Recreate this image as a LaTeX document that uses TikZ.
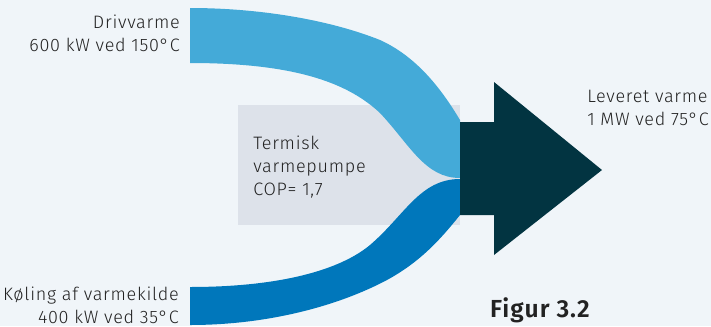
\documentclass[tikz,border=0pt]{standalone}
\usepackage{fontspec}
\setmainfont{Fira Sans Light}[BoldFont={Fira Sans SemiBold}, LetterSpace=4]
\usepackage{tikz}
\usetikzlibrary{positioning,calc}
\usepackage{xcolor}

\definecolor{bgcol}{HTML}{F0F5F9}
\definecolor{drivcol}{HTML}{44AAD8}
\definecolor{koelcol}{HTML}{0077BB}
\definecolor{pumpcol}{HTML}{DDE2EA}
\definecolor{levcol}{HTML}{023441}
\definecolor{txtcol}{HTML}{222222}

\begin{document}
\begin{tikzpicture}[
    x=0.75pt,
    y=-0.75pt,
    every node/.style={
        text=txtcol,
        inner sep=0pt,
        font=\fontsize{13.5}{17.25}\selectfont
    },
    flowlabel/.style={align=right, anchor=east},
    outlabel/.style={align=left, anchor=west}
]

% ---------------- Background ----------------
\fill[bgcol] (0,0) rectangle (711,326);
\useasboundingbox (0,0) rectangle (711,326);

% ---------------- Heat pump box ----------------
\fill[pumpcol] (238,105) rectangle (460,225);
\node[outlabel] (pump) at (253,167) {Termisk\\varmepumpe\\COP= 1,7};

% ---------------- Flows ----------------
\fill[drivcol]
    (190,8) .. controls (260,8) and (330,20) .. (380,40)
    .. controls (420,58) and (445,95) .. (460,120)
    -- (460,178) .. controls (425,178) and (410,145) .. (380,113)
    .. controls (350,85) and (300,63) .. (190,63) -- cycle;
\fill[koelcol]
    (190,287) .. controls (280,287) and (340,270) .. (370,245)
    .. controls (405,215) and (420,179) .. (460,179)
    -- (460,215) .. controls (440,240) and (420,262) .. (387,280)
    .. controls (340,305) and (270,325) .. (190,325) -- cycle;

% ---------------- Output arrow ----------------
\fill[levcol]
    (460,122) -- (494,122) -- (494,82) -- (602,170)
    -- (494,255) -- (494,215) -- (460,215) -- cycle;

% ---------------- Labels ----------------
\node[flowlabel] (driv) at (180,33) {Drivvarme\\600 kW ved 150°C};
\node[flowlabel] (koel) at (179,305) {Køling af varmekilde\\400 kW ved 35°C};
\node[outlabel] (lev) at (587,108) {Leveret varme\\1 MW ved 75°C};
\node[font=\fontsize{18.5}{22}\bfseries] (fig) at (540,310) {Figur 3.2};

\end{tikzpicture}
\end{document}
